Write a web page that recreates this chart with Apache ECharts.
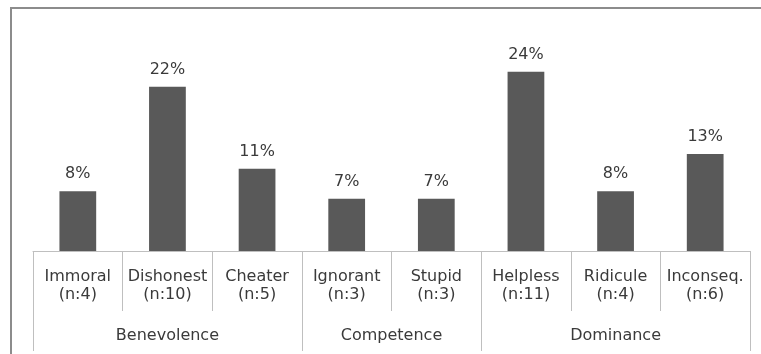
<!DOCTYPE html>
<html>
<head>
<meta charset="utf-8">
<script src="https://cdn.jsdelivr.net/npm/echarts@6/dist/echarts.min.js"></script>
<style>
  html, body { margin: 0; padding: 0; background: #fff; }
  #chart { width: 761px; height: 354px; }
</style>
</head>
<body>
<div id="chart"></div>
<script>
// Insult categories, their sample counts and share of all responses (%)
const categories = ['Immoral', 'Dishonest', 'Cheater', 'Ignorant', 'Stupid', 'Helpless', 'Ridicule', 'Inconseq.'];
const counts = [4, 10, 5, 3, 3, 11, 4, 6];
const shares = [8, 22, 11, 7, 7, 24, 8, 13];

// Higher-level groups, each spanning consecutive categories
const groups = ['Benevolence', 'Competence', 'Dominance'];
const groupSizes = [3, 2, 3];

// Boundaries and centres of the groups in category units
const groupEdges = [0];
groupSizes.forEach(s => groupEdges.push(groupEdges[groupEdges.length - 1] + s));
const groupCentres = groups.map((g, i) => (groupEdges[i] + groupEdges[i + 1]) / 2);

const categoryLabels = categories.map((c, i) => c + '\n(n:' + counts[i] + ')');

const textColor = '#3a3a3a';
const lineColor = '#bfbfbf';
const font = 'DejaVu Sans';

const chart = echarts.init(document.getElementById('chart'), null, { renderer: 'canvas' });

chart.setOption({
  animation: false,
  backgroundColor: '#ffffff',
  graphic: [{
    type: 'rect',
    shape: { x: 11, y: 8, width: 780, height: 380 },
    style: { fill: 'none', stroke: '#8c8c8c', lineWidth: 2 },
    silent: true
  }],
  grid: { left: 33, right: 11, top: 27, bottom: 103, containLabel: false },
  xAxis: [
    {
      type: 'category',
      data: categoryLabels,
      position: 'bottom',
      offset: 0,
      axisLine: { show: true, lineStyle: { color: lineColor, width: 1 } },
      axisTick: { show: true, interval: 0, length: 60, lineStyle: { color: lineColor, width: 1 } },
      axisLabel: {
        interval: 0,
        margin: 17,
        color: textColor,
        fontFamily: font,
        fontSize: 16,
        lineHeight: 18
      }
    },
    {
      type: 'value',
      min: 0,
      max: categories.length,
      position: 'bottom',
      offset: 0,
      axisLine: { show: false },
      splitLine: { show: false },
      axisTick: {
        show: true,
        customValues: groupEdges,
        length: 100,
        lineStyle: { color: lineColor, width: 1 }
      },
      axisLabel: {
        show: true,
        customValues: groupCentres,
        formatter: v => groups[groupCentres.indexOf(v)] || '',
        margin: 77,
        color: textColor,
        fontFamily: font,
        fontSize: 16
      }
    }
  ],
  yAxis: {
    type: 'value',
    min: 0,
    max: 30,
    show: false,
    splitLine: { show: false }
  },
  series: [{
    type: 'bar',
    xAxisIndex: 0,
    data: shares,
    barWidth: '41%',
    itemStyle: { color: '#595959' },
    label: {
      show: true,
      position: 'top',
      distance: 9,
      formatter: p => p.value + '%',
      color: textColor,
      fontFamily: font,
      fontSize: 16
    }
  }]
});
</script>
</body>
</html>
